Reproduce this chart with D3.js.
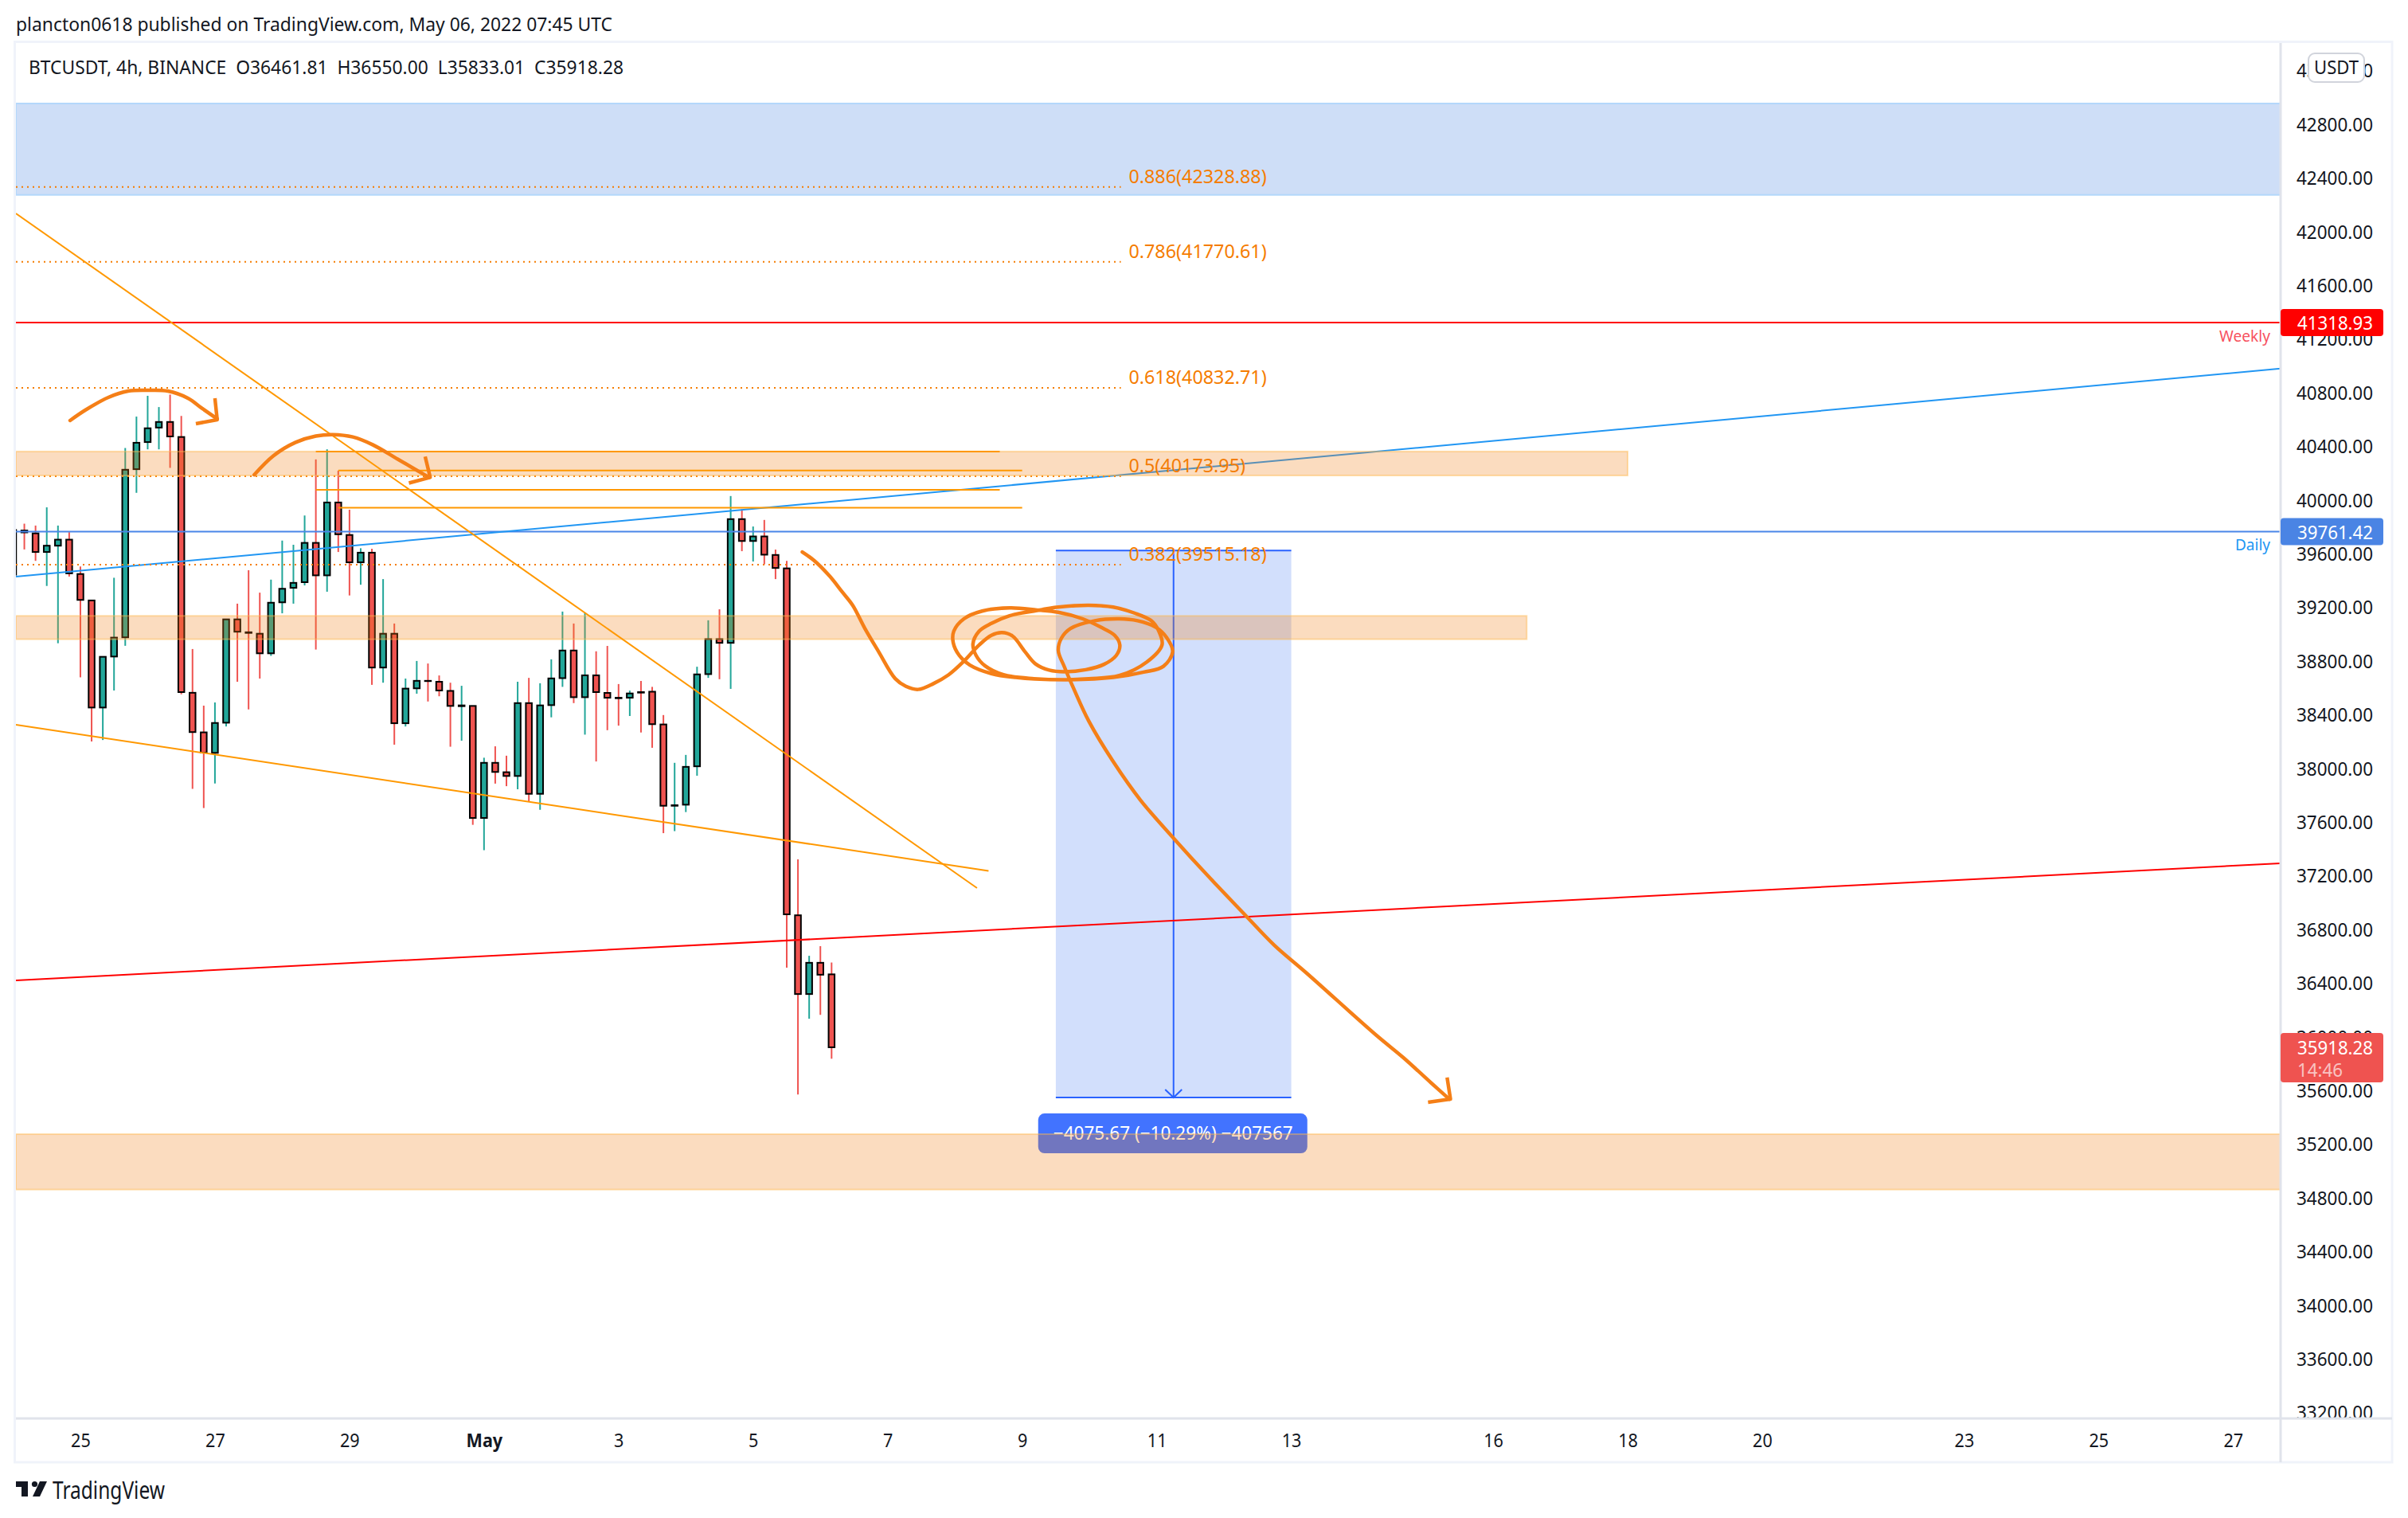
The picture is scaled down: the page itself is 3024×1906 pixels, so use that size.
<!DOCTYPE html>
<html><head><meta charset="utf-8">
<script src="https://cdnjs.cloudflare.com/ajax/libs/d3/7.8.5/d3.min.js"></script>
<style>html,body{margin:0;padding:0;background:#fff}svg{display:block}text{font-family:"Noto Sans",sans-serif}</style>
</head><body><svg id="c" width="3024" height="1906"></svg>
<script>
// ---- data: 4h bars, bar 0 = 25 Apr 00:00 -----
const firstBar = -6;
const opens  = [39440,39769,39748,39609,39656,39701,39445,39248,38450,38830,38973,40226,40428,40536,40578,40466,38560,38265,38112,38337,39107,39011,39000,38854,39234,39342,39384,39677,39435,39978,39736,39532,39604,38748,39000,38333,38593,38649,38642,38574,38460,38462,37627,38038,37968,37940,38483,37807,38468,38669,38875,38527,38690,38559,38523,38523,38565,38568,38324,37718,37726,38012,38699,38960,38932,39854,39691,39725,39587,39487,36902,36315,36548,36461.81];
const highs  = [39780,39820,39806,39942,39806,39757,39501,39248,38828,39417,40384,40618,40773,40689,40782,40623,38886,38464,38488,39109,39224,39473,39306,39403,39694,39663,39881,40299,40374,40215,39924,39637,39633,39407,39076,38666,38797,38778,38689,38635,38612,38462,38076,38161,38091,38642,38671,38631,38809,39165,39076,39157,38869,38909,38625,38576,38648,38604,38394,38038,38097,38754,39100,39182,40026,39928,39799,39848,39627,39543,37319,36600,36672,36550.00];
const lows   = [39440,39628,39543,39356,38929,39426,38675,38197,38208,38577,38910,40050,40374,40374,40236,38548,37844,37701,37884,38309,38642,38436,38666,38835,39152,39224,39360,38882,39313,39609,39285,39365,38619,38635,38173,38309,38553,38495,38534,38158,38203,37576,37387,37883,37864,37841,37749,37688,38377,38604,38483,38248,38048,38281,38315,38387,38264,38150,37514,37529,37671,37942,38671,38661,38589,39615,39538,39517,39407,36512,35567,36131,36160,35833.01];
const closes = [39773,39755,39609,39656,39701,39450,39252,38450,38828,38971,40222,40423,40531,40578,40470,38565,38267,38114,38335,39107,39015,39006,38854,39231,39335,39379,39677,39435,39978,39741,39532,39604,38748,39000,38333,38591,38649,38647,38577,38462,38466,37627,38038,37970,37940,38483,37807,38466,38667,38875,38527,38690,38565,38523,38519,38555,38561,38326,37718,37722,38008,38697,38960,38932,39854,39691,39725,39589,39490,36909,36315,36548,36459,35918.28];

const priceTicks = d3.range(33200, 43201, 400);
const dayOffsets = [0,2,4,6,8,10,12,14,16,18,21,23,25,28,30,32];
const dayLabels  = ["25","27","29","May","3","5","7","9","11","13","16","18","20","23","25","27"];

const fibLevels = [0.886,0.786,0.618,0.5,0.382];
const fibPrices = [42328.88,41770.61,40832.71,40173.95,39515.18];

const zoneBlue  = {from:-5.75,to:196.24,top:42951,bottom:42270};
const zonesPeach = [
  {to:138,   top:40358,bottom:40179},
  {to:129,   top:39133,bottom:38959},
  {to:196.24,top:35271,bottom:34858}
];
const weeklyPrice = 41318.93, dailyPrice = 39761.42, lastPrice = 35918.28;
const trendBlue = [[-5.75,39426],[196.24,40976]];
const trendRed  = [[-5.75,36417],[196.24,37289]];
const trendOrangeA = [[-5.75,42132],[79.97,37105]];
const trendOrangeB = [[-5.75,38322],[81.0,37233]];
const rectLines = [
  [[21,40357],[82,40357]],[[21,40072],[82,40072]],
  [[23,40217],[84,40217]],[[23,39939],[84,39939]]
];
const rangeTool = {from:87,to:108,top:39620,bottom:35544};

const arcOne = [[-0.92,40589],[0.43,40666],[2.49,40761],[4.26,40808],[6.04,40814],[7.81,40808],[9.59,40755],[10.87,40678],[12.2,40601]];
const arcOneHead = [[12.0,40755],[12.2,40595],[10.3,40565]];
const arcTwo = [[15.5,40184],[17.2,40325],[19.2,40426],[21.0,40473],[22.5,40484],[24.3,40466],[26.1,40407],[28.3,40301],[31.1,40165]];
const arcTwoHead = [[30.75,40320],[31.2,40165],[29.3,40123]];
const scribble = [[64.39,39609],[65.48,39543],[66.84,39428],[67.93,39313],[68.88,39212],[69.97,39039],[71.19,38867],[72.68,38665],[73.63,38608],[74.72,38585],[76.08,38628],[77.44,38694],[78.80,38795],[80.16,38916],[81.25,38988],[82.20,39008],[83.15,38982],[84.24,38867],[85.19,38775],[86.41,38729],[87.77,38717],[89.67,38732],[91.30,38772],[92.39,38838],[92.71,38916],[92.25,38988],[91.03,39048],[89.40,39111],[87.22,39160],[85.32,39177],[82.88,39192],[80.43,39169],[78.80,39111],[77.90,39019],[77.85,38933],[78.39,38838],[79.34,38766],[81.25,38703],[83.42,38674],[86.95,38657],[89.94,38665],[92.66,38688],[95.11,38789],[96.47,38916],[96.19,39019],[95.51,39097],[94.02,39154],[92.12,39198],[89.94,39212],[87.22,39198],[85.05,39169],[82.88,39134],[81.25,39077],[80.16,39019],[79.61,38924],[79.89,38838],[80.70,38760],[82.33,38694],[85.05,38665],[88.31,38657],[92.12,38674],[94.84,38714],[96.60,38757],[97.42,38867],[96.87,38973],[95.92,39048],[94.29,39097],[92.66,39111],[90.49,39097],[88.31,39039],[87.50,38967],[87.22,38875],[87.77,38752],[88.58,38594],[89.94,38349],[92.12,38047],[94.56,37759],[97.55,37472],[100.54,37198],[103.81,36911],[106.47,36680],[109.3,36476],[115.6,36007],[118.0,35841],[120.5,35651],[122.1,35532]];
const scribbleHead = [[121.9,35693],[122.2,35532],[120.2,35509]];

// ---- layout / scales -----
const pane = {l:20,r:2864,t:54,b:1781};
const x = d3.scaleLinear().domain([-5.75,196.24]).range([pane.l,pane.r]);
const y = d3.scaleLinear().domain([42800,33200]).range([155.4,1773]);

const C = {up:"#22a699",down:"#ef5350",ink:"#131722",orange:"#ff9800",brush:"#f57f17",fib:"#f57c00",
           frame:"#f0f3fa",sep:"#e0e3eb"};

const svg = d3.select("#c");
const defs = svg.append("defs");
defs.append("clipPath").attr("id","pane").append("rect")
  .attr("x",pane.l).attr("y",pane.t).attr("width",pane.r-pane.l).attr("height",pane.b-pane.t);

function fit(sel,k){sel.each(function(){const n=this;n.setAttribute("textLength",n.getComputedTextLength()*k);n.setAttribute("lengthAdjust","spacingAndGlyphs");});return sel;}
function label(g,px,py,str,o={}){
  const t=g.append("text").attr("x",px).attr("y",py-2).attr("fill",o.fill||C.ink)
    .attr("font-size",o.size||24).attr("text-anchor",o.anchor||"start").attr("font-weight",o.weight||400)
    .attr("dominant-baseline","central").style("white-space","pre").text(str);
  if(o.opacity) t.attr("opacity",o.opacity);
  if(o.width){t.attr("textLength",o.width).attr("lengthAdjust","spacingAndGlyphs");}
  else fit(t,o.k||0.94);
  return t;
}

// frame
svg.append("rect").attr("x",pane.l-1.5).attr("y",pane.t-1.5).attr("width",3004-pane.l+1.5).attr("height",1836-pane.t+1.5)
  .attr("fill","#fff").attr("stroke",C.frame).attr("stroke-width",3);

const plot = svg.append("g").attr("clip-path","url(#pane)");
const line = d3.line().x(d=>x(d[0])).y(d=>y(d[1]));
const brush = d3.line().x(d=>x(d[0])).y(d=>y(d[1])).curve(d3.curveCatmullRom.alpha(0.5));

// candles
const bars = opens.map((o,i)=>({b:firstBar+i,o,h:highs[i],l:lows[i],c:closes[i]}));
const cg = plot.append("g");
cg.selectAll("line").data(bars).join("line")
  .attr("x1",d=>x(d.b)).attr("x2",d=>x(d.b)).attr("y1",d=>y(d.h)).attr("y2",d=>y(d.l))
  .attr("stroke",d=>d.c>=d.o?C.up:C.down).attr("stroke-width",2);
cg.selectAll("rect").data(bars).join("rect")
  .attr("x",d=>x(d.b)-3.75).attr("width",7.5)
  .attr("y",d=>y(Math.max(d.o,d.c))).attr("height",d=>Math.abs(y(d.o)-y(d.c)))
  .attr("fill",d=>d.c>=d.o?C.up:C.down).attr("stroke","#000").attr("stroke-width",2);

// blue zone
plot.append("rect").attr("x",x(zoneBlue.from)).attr("width",x(zoneBlue.to)-x(zoneBlue.from))
  .attr("y",y(zoneBlue.top)).attr("height",y(zoneBlue.bottom)-y(zoneBlue.top))
  .attr("fill","#cedef7").attr("stroke","#b3d7fb").attr("stroke-width",2);

// range tool
const rx0=x(rangeTool.from),rx1=x(rangeTool.to),rxm=x((rangeTool.from+rangeTool.to)/2),ryT=y(rangeTool.top),ryB=y(rangeTool.bottom);
const rg=plot.append("g");
rg.append("rect").attr("x",rx0).attr("width",rx1-rx0).attr("y",ryT).attr("height",ryB-ryT).attr("fill","#d2dffc");
[ryT,ryB].forEach(v=>rg.append("line").attr("x1",rx0).attr("x2",rx1).attr("y1",v).attr("y2",v).attr("stroke","#2962ff").attr("stroke-width",2));
rg.append("line").attr("x1",rxm).attr("x2",rxm).attr("y1",ryT).attr("y2",ryB).attr("stroke","#2962ff").attr("stroke-width",2);
rg.append("path").attr("d",`M${rxm-10.5},${ryB-10}L${rxm},${ryB}L${rxm+10.5},${ryB-10}`).attr("fill","none").attr("stroke","#2962ff").attr("stroke-width",2);

// horizontal + slanted level lines
plot.append("line").attr("x1",pane.l).attr("x2",pane.r).attr("y1",y(weeklyPrice)).attr("y2",y(weeklyPrice)).attr("stroke","#ff0000").attr("stroke-width",2);
plot.append("line").attr("x1",pane.l).attr("x2",pane.r).attr("y1",y(dailyPrice)).attr("y2",y(dailyPrice)).attr("stroke","#4a86e8").attr("stroke-width",2);
plot.append("path").attr("d",line(trendBlue)).attr("stroke","#2196f3").attr("stroke-width",2).attr("fill","none");
plot.append("path").attr("d",line(trendRed)).attr("stroke","#ff0000").attr("stroke-width",2).attr("fill","none");
label(plot,2851,y(weeklyPrice)+19,"Weekly",{anchor:"end",size:19,fill:"#f7525f",width:64});
label(plot,2851,y(dailyPrice)+19,"Daily",{anchor:"end",size:19,fill:"#2196f3",width:44});

// range label
const rlW=338,rlH=50,rlY=ryB+20;
const rlG=plot.append("g");
rlG.append("rect").attr("x",rxm-170).attr("y",rlY).attr("width",rlW).attr("height",rlH).attr("rx",8).attr("fill","#4273ff");
label(rlG,rxm-151,rlY+25,"\u22124075.67 (\u221210.29%) \u2212407567",{fill:"#fff",size:24,width:301});

// fib
const fg=plot.append("g");
fibPrices.forEach((p,i)=>{
  fg.append("line").attr("x1",pane.l).attr("x2",x(92.8)).attr("y1",y(p)).attr("y2",y(p))
    .attr("stroke",C.fib).attr("stroke-width",2).attr("stroke-dasharray","2 5");
  const s=fibLevels[i]+"("+d3.format(".2f")(p)+")";
  label(fg,x(93.5),y(p)-12.5,s,{fill:C.fib,size:24,k:0.972});
});

// peach zones (on top)
plot.selectAll("rect.z").data(zonesPeach).join("rect").attr("class","z")
  .attr("x",pane.l).attr("width",d=>x(d.to)-pane.l).attr("y",d=>y(d.top)).attr("height",d=>y(d.bottom)-y(d.top))
  .attr("fill","rgba(240,125,20,0.27)").attr("stroke","rgba(255,183,77,0.45)").attr("stroke-width",2);

// orange lines
[trendOrangeA,trendOrangeB].forEach(l=>plot.append("path").attr("d",line(l)).attr("stroke",C.orange).attr("stroke-width",2).attr("fill","none"));
rectLines.forEach(l=>plot.append("path").attr("d",line(l)).attr("stroke",C.orange).attr("stroke-width",2).attr("fill","none"));

// brush drawings
[arcOne,arcTwo,scribble].forEach(l=>plot.append("path").attr("d",brush(l)).attr("stroke",C.brush).attr("stroke-width",4.5).attr("fill","none").attr("stroke-linecap","round").attr("stroke-linejoin","round"));
[arcOneHead,arcTwoHead,scribbleHead].forEach(l=>plot.append("path").attr("d",line(l)).attr("stroke",C.brush).attr("stroke-width",4.5).attr("fill","none").attr("stroke-linejoin","round"));

// axes
const yAxis=d3.axisRight(y).tickValues(priceTicks).tickSize(0).tickPadding(20).tickFormat(d3.format(".2f"));
const yg=svg.append("g").attr("transform",`translate(${pane.r},0)`).call(yAxis);
yg.select(".domain").remove();
yg.selectAll("text").attr("font-size",24).attr("fill",C.ink).attr("font-family",'"Noto Sans",sans-serif').attr("dy",null).attr("dominant-baseline","central")
  .attr("y",-0.6).attr("textLength",96).attr("lengthAdjust","spacingAndGlyphs");

const xAxis=d3.axisBottom(x).tickValues(dayOffsets.map(d=>d*6)).tickSize(0).tickPadding(0)
  .tickFormat(v=>dayLabels[dayOffsets.indexOf(v/6)]);
const xg=svg.append("g").attr("transform",`translate(0,${pane.b})`).call(xAxis);
xg.select(".domain").remove();
xg.selectAll("text").attr("font-size",24).attr("fill",C.ink).attr("font-family",'"Noto Sans",sans-serif').attr("dy",null)
  .attr("y",26).attr("dominant-baseline","central").attr("font-weight",(d,i)=>dayLabels[i]==="May"?700:400);
fit(xg.selectAll("text"),0.9);

svg.append("line").attr("x1",pane.r).attr("x2",pane.r).attr("y1",pane.t).attr("y2",1836).attr("stroke",C.sep).attr("stroke-width",3);
svg.append("line").attr("x1",pane.l).attr("x2",3004).attr("y1",pane.b).attr("y2",pane.b).attr("stroke",C.sep).attr("stroke-width",3);

// price tags
function tag(p,fill,h,str){
  const cy=y(p);
  svg.append("rect").attr("x",pane.r).attr("y",cy-17).attr("width",129).attr("height",h).attr("rx",4).attr("fill",fill);
  label(svg,2885,cy+2,str,{fill:"#fff",width:95});
}
tag(weeklyPrice,"#ff0000",34,"41318.93");
tag(dailyPrice,"#4a84e4",34,"39761.42");
const ly=y(lastPrice);
svg.append("rect").attr("x",pane.r).attr("y",ly-18).attr("width",129).attr("height",62).attr("rx",4).attr("fill",C.down);
label(svg,2885,ly+2,"35918.28",{fill:"#fff",width:95});
label(svg,2885,ly+30,"14:46",{fill:"#fff",opacity:0.65,width:57});

// USDT
svg.append("rect").attr("x",2899).attr("y",67).attr("width",70).attr("height",36).attr("rx",8).attr("fill","#fff").attr("stroke","#d1d4dc").attr("stroke-width",2);
label(svg,2934,85,"USDT",{anchor:"middle",size:24,width:56});

// header + legend
label(svg,20,31,"plancton0618 published on TradingView.com, May 06, 2022 07:45 UTC",{width:749,size:24});
label(svg,36,85,"BTCUSDT, 4h, BINANCE  O36461.81  H36550.00  L35833.01  C35918.28",{width:747,size:24});

// logo
const lg=svg.append("g").attr("fill",C.ink);
lg.append("path").attr("d","M20,1860H35V1879H27V1867H20Z");
lg.append("circle").attr("cx",43.5).attr("cy",1863.5).attr("r",3.6);
lg.append("path").attr("d","M50,1860H59L50,1879H41Z");
label(svg,66,1872,"TradingView",{size:30,width:141});
</script></body></html>
